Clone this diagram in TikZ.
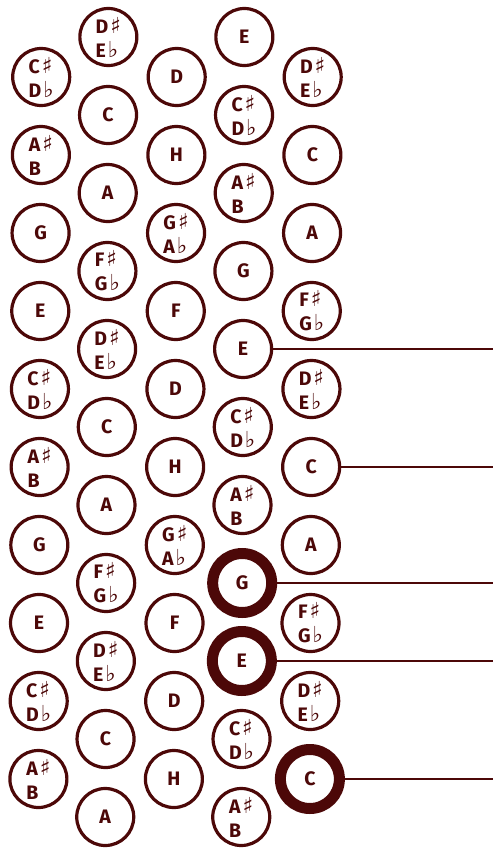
\documentclass[tikz,border=0pt]{standalone}
\usepackage{fontspec}
\setmainfont{Fira Sans}
\newfontfamily\symf{DejaVu Sans}
\definecolor{mar}{RGB}{76,8,8}
\newcommand\shp{{\symf\bfseries\fontsize{22}{24}\selectfont\char"266F}}
\newcommand\flt{{\symf\bfseries\fontsize{22}{24}\selectfont\char"266D}}
\newcommand\tw[2]{#1\hspace{2pt}\shp\\#2\hspace{2pt}\flt}
\newcommand\tb[2]{#1\hspace{2pt}\shp\\#2}
\begin{document}
\begin{tikzpicture}[x=1pt,y=-1pt,
  keyt/.style={circle,draw=mar,line width=3.2pt,minimum size=57pt,inner sep=0pt,
    text=mar,align=left,font=\bfseries\fontsize{19.5}{24}\selectfont},
  keyb/.style={keyt,line width=11pt,minimum size=59pt},
  conn/.style={draw=mar,line width=1.7pt}]
\useasboundingbox (0,0) rectangle (493,851);
\fill[white] (0,0) rectangle (493,851);
% column 1
\foreach \lab [count=\k from 0] in {{\tw{C}{D}},{\tb{A}{B}},G,E,{\tw{C}{D}},{\tb{A}{B}},G,E,{\tw{C}{D}},{\tb{A}{B}}}
  \node[keyt] (a\k) at ({41.5-0.004*(77+78*\k)},{77+78*\k}) {\lab};
% column 2
\foreach \lab [count=\k from 0] in {{\tw{D}{E}},C,A,{\tw{F}{G}},{\tw{D}{E}},C,A,{\tw{F}{G}},{\tw{D}{E}},C,A}
  \node[keyt] (b\k) at ({108.5-0.004*(37+78*\k)},{37+78*\k}) {\lab};
% column 3
\foreach \lab [count=\k from 0] in {D,H,{\tw{G}{A}},F,D,H,{\tw{G}{A}},F,D,H}
  \node[keyt] (c\k) at ({177-0.004*(77+78*\k)},{77+78*\k}) {\lab};
% column 4
\foreach \lab/\st [count=\k from 0] in {E/keyt,{\tw{C}{D}}/keyt,{\tb{A}{B}}/keyt,G/keyt,E/keyt,{\tw{C}{D}}/keyt,{\tb{A}{B}}/keyt,G/keyb,E/keyb,{\tw{C}{D}}/keyt,{\tb{A}{B}}/keyt}
  \node[\st] (d\k) at ({244.5-0.004*(37+78*\k)},{37+78*\k}) {\lab};
% column 5
\foreach \lab/\st [count=\k from 0] in {{\tw{D}{E}}/keyt,C/keyt,A/keyt,{\tw{F}{G}}/keyt,{\tw{D}{E}}/keyt,C/keyt,A/keyt,{\tw{F}{G}}/keyt,{\tw{D}{E}}/keyt,C/keyb}
  \node[\st] (e\k) at ({313-0.004*(77+78*\k)},{77+78*\k}) {\lab};
% leader lines
\coordinate (R) at (493,0);
\foreach \n in {d4,e5,d7,d8,e9}
  \draw[conn] (\n.east) -- (\n.east -| R);
\end{tikzpicture}
\end{document}
